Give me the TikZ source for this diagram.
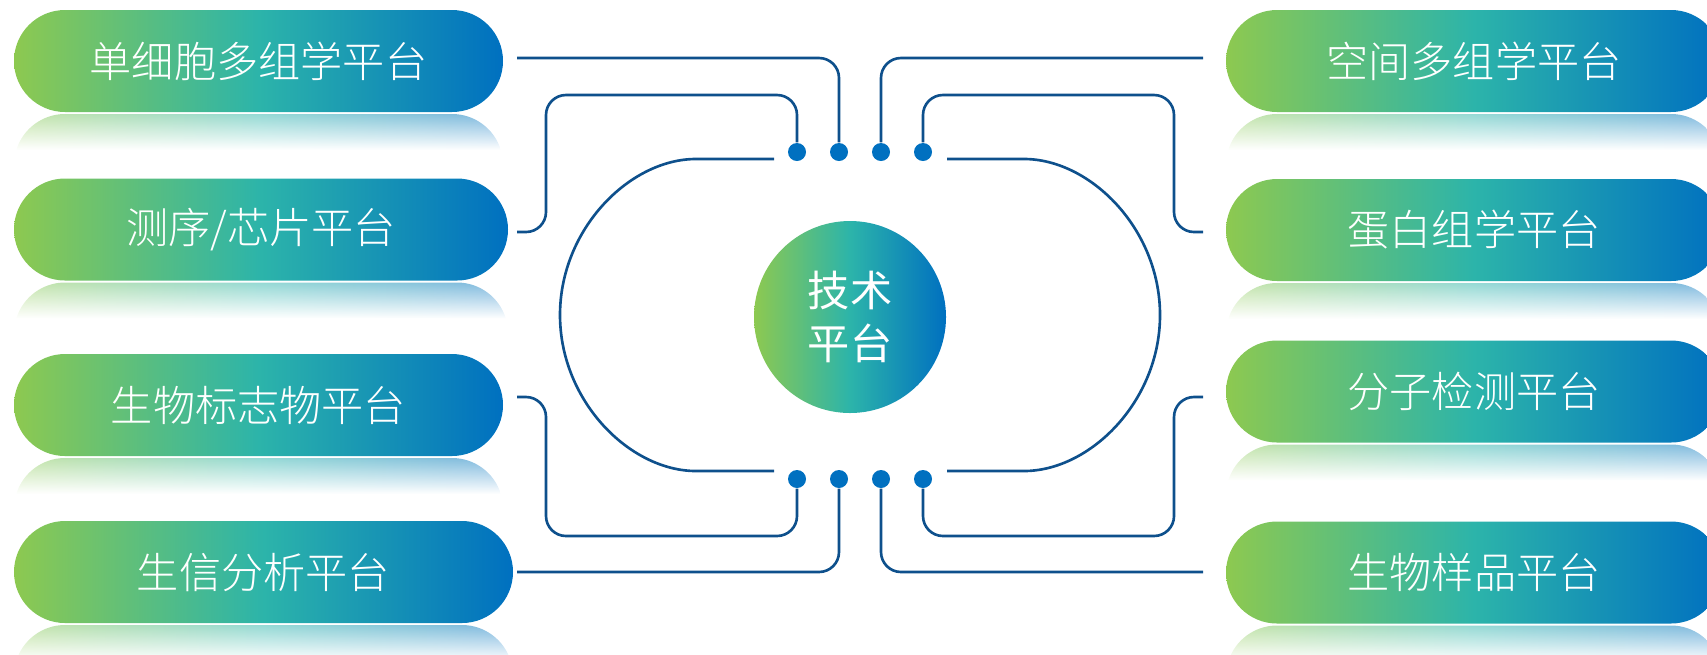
\documentclass[tikz,border=0pt]{standalone}
\usepackage{fontspec}
\newfontfamily\cjk{Noto Sans CJK SC}[UprightFont=* Light]
\newfontfamily\cjkhub{Noto Sans CJK SC}
\usetikzlibrary{calc,fadings}
\definecolor{leafgreen}{RGB}{141,201,80}
\definecolor{seateal}{RGB}{44,180,170}
\definecolor{deepblue}{RGB}{0,112,192}
\definecolor{wireblue}{RGB}{14,80,140}
\tikzfading[name=reflfade, top color=transparent!50, bottom color=transparent!100]

\begin{document}
\begin{tikzpicture}[
	platform/.style={
		rectangle,
		rounded corners=0.51cm,
		inner sep=0pt,
		outer sep=0pt,
		minimum height=1.02cm,
		left color=leafgreen,
		right color=deepblue,
		middle color=seateal,
		text=white,
		font=\cjk\fontsize{12}{14}\selectfont
	},
	hub/.style={
		circle,
		minimum size=1.92cm,
		inner sep=0pt,
		left color=leafgreen,
		right color=deepblue,
		middle color=seateal,
		align=center,
		text=white,
		font=\cjkhub\fontsize{12}{15}\selectfont
	},
	pin/.style={
		circle,
		fill=deepblue,
		minimum size=0.18cm,
		inner sep=0pt
	},
	wire/.style={
		draw=wireblue,
		line width=0.75pt,
		rounded corners=0.2cm
	}]

   \useasboundingbox (0,0) rectangle (17.07,6.54);

   \node[platform, minimum width=4.89cm] (sc)  at (2.585,5.93) {单细胞多组学平台};
   \node[platform, minimum width=4.94cm] (seq) at (2.61,4.245) {测序/芯片平台};
   \node[platform, minimum width=4.89cm] (bm)  at (2.585,2.49) {生物标志物平台};
   \node[platform, minimum width=4.99cm] (bi)  at (2.635,0.82) {生信分析平台};
   \node[platform, minimum width=4.96cm] (sp)  at (14.74,5.93) {空间多组学平台};
   \node[platform, minimum width=4.96cm] (pr)  at (14.74,4.24) {蛋白组学平台};
   \node[platform, minimum width=4.96cm] (md)  at (14.74,2.625) {分子检测平台};
   \node[platform, minimum width=4.96cm] (bs)  at (14.74,0.815) {生物样品平台};

   % mirrored glow under each platform
   \foreach \n in {sc,seq,bm,bi,sp,pr,md,bs}
     \shade[left color=leafgreen, right color=deepblue, middle color=seateal, path fading=reflfade]
       ($(\n.south west)+(0.0225,-0.38)$) arc[start angle=162.9, end angle=90, radius=0.51]
       -- ($(\n.south east)+(-0.51,-0.02)$) arc[start angle=90, end angle=17.1, radius=0.51] -- cycle;

   \node[hub] (core) at (8.50,3.37) {技术\\平台};

   \node[pin] (t1) at (7.97,5.02) {};
   \node[pin] (t2) at (8.39,5.02) {};
   \node[pin] (t3) at (8.81,5.02) {};
   \node[pin] (t4) at (9.23,5.02) {};
   \node[pin] (b1) at (7.97,1.75) {};
   \node[pin] (b2) at (8.39,1.75) {};
   \node[pin] (b3) at (8.81,1.75) {};
   \node[pin] (b4) at (9.23,1.75) {};

   \coordinate (a1) at (5.17,5.96);
   \coordinate (a2) at (5.17,4.22);
   \coordinate (a3) at (5.17,2.57);
   \coordinate (a4) at (5.17,0.82);
   \coordinate (c1) at (12.03,5.96);
   \coordinate (c2) at (12.03,4.22);
   \coordinate (c3) at (12.03,2.57);
   \coordinate (c4) at (12.03,0.82);

   % ring round the hub
   \draw[wire] (7.74,4.95) -- (7.16,4.95) arc[start angle=90, end angle=270, radius=1.56] -- (7.74,1.83);
   \draw[wire] (9.47,4.95) -- (10.04,4.95) arc[start angle=90, end angle=-90, radius=1.56] -- (9.47,1.83);

   \draw[wire] (a1) -| (t2);
   \draw[wire] (a2) -| (5.46,5.59) -| (t1);
   \draw[wire] (a3) -| (5.46,1.18) -| (b1);
   \draw[wire] (a4) -| (b2);
   \draw[wire] (c1) -| (t3);
   \draw[wire] (c2) -| (11.74,5.59) -| (t4);
   \draw[wire] (c3) -| (11.74,1.18) -| (b4);
   \draw[wire] (c4) -| (b3);
\end{tikzpicture}
\end{document}
